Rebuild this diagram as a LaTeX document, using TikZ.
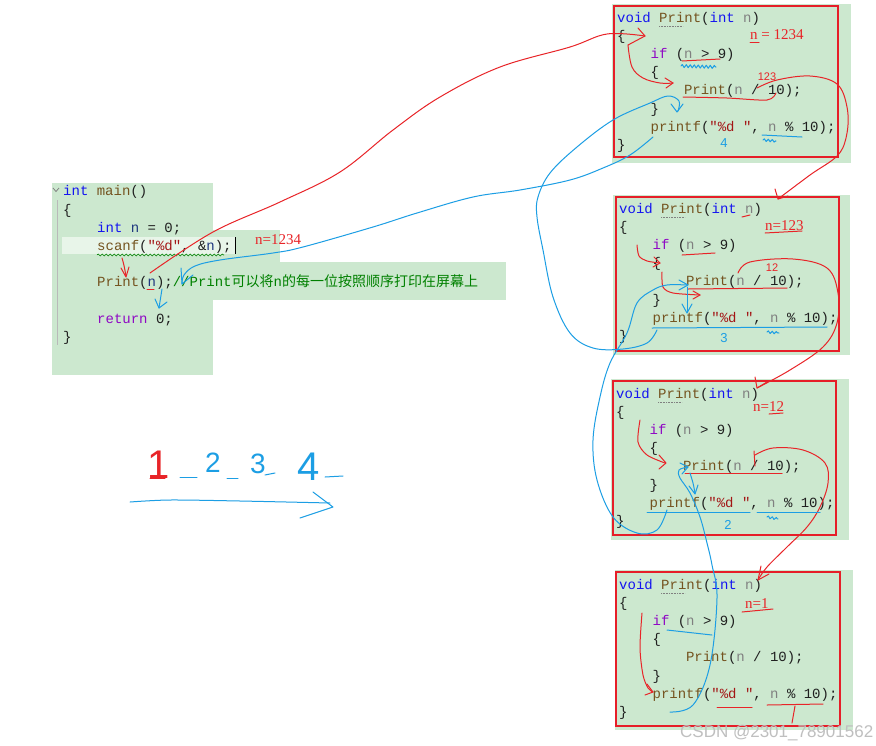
\documentclass[tikz,border=0pt]{standalone}
\usepackage{fontspec}
\setmainfont{Liberation Serif}
\setsansfont{Liberation Sans}
\setmonofont{Liberation Mono}
\newfontfamily\cjk{Noto Sans CJK SC}
\usetikzlibrary{decorations.pathmorphing}
\definecolor{bg}{RGB}{204,232,207}
\definecolor{kw}{RGB}{20,20,240}
\definecolor{ctl}{RGB}{143,8,196}
\definecolor{fn}{RGB}{116,83,31}
\definecolor{strc}{RGB}{163,21,21}
\definecolor{par}{RGB}{128,128,128}
\definecolor{loc}{RGB}{31,55,127}
\definecolor{cmt}{RGB}{0,128,0}
\definecolor{pen}{RGB}{232,36,40}
\definecolor{ink}{RGB}{28,158,228}
\definecolor{boxred}{RGB}{230,30,40}
\newcommand\ckw[1]{\textcolor{kw}{#1}}
\newcommand\cctl[1]{\textcolor{ctl}{#1}}
\newcommand\cfn[1]{\textcolor{fn}{#1}}
\newcommand\cstr[1]{\textcolor{strc}{#1}}
\newcommand\cpar[1]{\textcolor{par}{#1}}
\newcommand\cloc[1]{\textcolor{loc}{#1}}
\newcommand\ccmt[1]{\textcolor{cmt}{#1}}
\tikzset{
  code/.style={anchor=base west, inner sep=0pt, font=\ttfamily\fontsize{14}{14}\selectfont, text=black!88},
  anno/.style={anchor=base west, inner sep=0pt, font=\rmfamily\fontsize{15}{15}\selectfont, text=pen},
  hand/.style={inner sep=0pt, font=\sffamily\fontsize{12}{12}\selectfont},
  rpen/.style={draw=pen, line width=1pt, line cap=round, line join=round},
  bpen/.style={draw=ink, line width=1pt, line cap=round, line join=round},
  redbox/.style={draw=boxred, line width=2pt},
  wave/.style={decorate, decoration={snake, amplitude=1.5pt, segment length=4pt}},
}
\newcommand\printcode[3]{%
  \node[code] (#1l1) at (#2,#3) {\ckw{void} \cfn{Print}(\ckw{int} \cpar{n})};
  \node[code] (#1l2) at (#2,#3+18.2) {\{};
  \node[code] (#1l3) at (#2+33.4,#3+36.4) {\cctl{if} (\cpar{n} > 9)};
  \node[code] (#1l4) at (#2+33.4,#3+54.6) {\{};
  \node[code] (#1l5) at (#2+66.8,#3+72.8) {\cfn{Print}(\cpar{n} / 10);};
  \node[code] (#1l6) at (#2+33.4,#3+91) {\}};
  \node[code] (#1l7) at (#2+33.4,#3+109.2) {\cfn{printf}(\cstr{"\%d "}, \cpar{n} \% 10);};
  \node[code] (#1l8) at (#2,#3+127.4) {\}};
  \draw[densely dotted, gray, line width=0.6pt] (#2+42,#3+4) -- (#2+66,#3+4);
}
\begin{document}
\begin{tikzpicture}[x=1pt,y=-1pt]
\useasboundingbox (0,0) rectangle (876,745);
\fill[white] (0,0) rectangle (876,745);

% ---------------- main() ----------------
\fill[bg] (52,183) rectangle (213,375);
\fill[bg] (213,230) rectangle (280,262);
\fill[bg] (213,262) rectangle (506,300);
\fill[bg!45!white] (62,237) rectangle (235,254);
\draw[gray, line width=0.8pt] (53,188) -- (56,191.5) -- (59,188);
\draw[gray!55, line width=0.8pt] (57,200) -- (57,345);
\node[code] (m1) at (63,195) {\ckw{int} \cfn{main}()};
\node[code] (m2) at (63,214) {\{};
\node[code] (m3) at (97,232) {\ckw{int} \cloc{n} = 0;};
\node[code] (m4) at (97,250) {\cfn{scanf}(\cstr{"\%d"}, \&\cloc{n});};
\node[code] (m5) at (97,286) {\cfn{Print}(\cloc{n});\ccmt{//Print{\cjk 可以将}n{\cjk 的每一位按照顺序打印在屏幕上}}};
\node[code] (m6) at (97,323) {\cctl{return} 0;};
\node[code] (m7) at (63,341) {\}};
\draw[black, line width=0.8pt] (235,237) -- (235,254);
\draw[cmt, line width=0.6pt, decorate, decoration={snake, amplitude=1pt, segment length=4pt}] (97,255) -- (224,255);
\node[anno] (n0) at (255,244) {n=1234};

% red small arrow scanf -> Print, underline of n
\draw[rpen] (122,258) .. controls (124,265) .. (126,276);
\draw[rpen] (121,268) -- (126,277) -- (129,267);
\draw[rpen] (147,289) -- (154,289);
% blue small arrow Print -> return
\draw[bpen] (162,289) .. controls (161,298) .. (159,308);
\draw[bpen] (155,299) -- (159,308) -- (167,302);

% ---------------- boxes ----------------
\fill[bg] (612,4) rectangle (851,163);
\draw[redbox] (614,6) rectangle (838,157);
\printcode{a}{617}{22}

\fill[bg] (613,195) rectangle (850,355);
\draw[redbox] (616,197) rectangle (839,351);
\printcode{b}{619}{213}

\fill[bg] (611,379) rectangle (849,540);
\draw[redbox] (613,381) rectangle (836,535);
\printcode{c}{616}{398}

\fill[bg] (615,570) rectangle (853,730);
\draw[redbox] (616,572) rectangle (840,726);
\printcode{d}{619}{589}

% ---------------- red: calls ----------------
\draw[rpen] plot[smooth, tension=0.6] coordinates {(150,273) (213,232) (280,202) (340,172) (393,130) (440,97) (500,67) (570,47) (607,34) (645,36)};
\draw[rpen] (638,28) -- (645,36) -- (628,45);
\draw[rpen] plot[smooth, tension=0.6] coordinates {(628,45) (632,67) (643,78) (660,83) (673,83)};
\draw[rpen] (665,78) -- (673,83) -- (666,88);

% box 1 annotations
\node[anno] (n1) at (750,39) {n = 1234};
\draw[rpen] (750,42) -- (759,42);
\draw[rpen] (682,61) -- (720,59);
\draw[bpen, wave] (681,66) -- (716,67);
\draw[rpen] plot[smooth] coordinates {(683,97) (727,98) (767,100) (776,93)};
\node[hand, text=pen, font=\sffamily\fontsize{11}{11}\selectfont] (h1) at (767,77) {123};
\draw[rpen] plot[smooth, tension=0.6] coordinates {(757,88) (777,80) (810,76) (837,84) (847,107) (847,133) (838,155) (810,175) (778,199)};
\draw[rpen] (775,189) -- (778,199) -- (788,196);
\draw[bpen] (762,135) -- (802,137);
\draw[bpen, decorate, decoration={snake, amplitude=1.2pt, segment length=4pt}] (763,140) -- (776,141);
\node[hand, text=ink, font=\sffamily\fontsize{13}{13}\selectfont] (h2) at (724,143) {4};

% box 2 annotations
\node[anno] (n2) at (765,230) {n=123};
\draw[rpen] (765,233) -- (802,231);
\draw[rpen] (742,217) -- (750,215);
\draw[rpen] (682,255) -- (715,253);
\draw[rpen] plot[smooth] coordinates {(637,245) (639,256) (647,261) (660,263)};
\draw[rpen] (654,257) -- (660,263) -- (653,267);
\draw[rpen] plot[smooth] coordinates {(662,272) (663,287) (673,293) (700,295)};
\draw[rpen] (693,291) -- (700,295) -- (693,299);
\draw[rpen] (688,289) -- (787,288);
\node[hand, text=pen, font=\sffamily\fontsize{11}{11}\selectfont] (h3) at (772,268) {12};
\draw[rpen] plot[smooth, tension=0.6] coordinates {(738,273) (750,262) (793,259) (827,268) (838,293) (837,323) (823,347) (790,370) (757,388)};
\draw[rpen] (755,377) -- (757,388) -- (767,382);
\draw[bpen] (687,287) -- (687,312);
\draw[bpen] (682,304) -- (687,313) -- (692,304);
\draw[bpen] (652,328) -- (827,327);
\node[hand, text=ink, font=\sffamily\fontsize{13}{13}\selectfont] (h4) at (724,338) {3};
\draw[bpen, decorate, decoration={snake, amplitude=1.2pt, segment length=4pt}] (767,332) -- (779,333);

% box 3 annotations
\node[anno] (n3) at (753,411) {n=12};
\draw[rpen] (769,414) -- (783,413);
\draw[rpen] plot[smooth] coordinates {(640,420) (638,442) (647,455) (665,463)};
\draw[rpen] (659,455) -- (666,463) -- (659,469);
\draw[rpen] (685,473) -- (782,473);
\draw[rpen] (754,451) -- (755,466);
\draw[rpen] plot[smooth, tension=0.6] coordinates {(755,455) (773,448) (803,450) (825,463) (828,483) (820,507) (807,527) (787,547) (767,567) (758,580)};
\draw[rpen] (761,566) -- (758,580) -- (769,574);
\draw[bpen] plot[smooth] coordinates {(690,473) (693,483) (695,493)};
\draw[bpen] (689,486) -- (695,494) -- (698,485);
\draw[bpen] (647,512) -- (750,512);
\draw[bpen] (757,512) -- (820,512);
\node[hand, text=ink, font=\sffamily\fontsize{13}{13}\selectfont] (h5) at (728,525) {2};
\draw[bpen, decorate, decoration={snake, amplitude=1.2pt, segment length=4pt}] (767,517) -- (778,519);

% box 4 annotations
\node[anno] (n4) at (745,608) {n=1};
\draw[rpen] (742,612) -- (773,609);
\draw[rpen] plot[smooth] coordinates {(642,613) (640,648) (643,675) (648,688) (653,692)};
\draw[rpen] (647,684) -- (653,692) -- (645,695);
\draw[rpen] (717,707) -- (752,707);
\draw[rpen] (767,705) -- (823,704);
\draw[rpen] (795,706) -- (792,723);
\draw[bpen] (667,630) -- (712,635);

% ---------------- blue: returns ----------------
\draw[bpen] plot[smooth, tension=0.6] coordinates {(653,137) (630,155) (603,168) (570,180) (520,190) (473,197) (417,213) (373,227) (303,247) (273,253) (220,260) (195,266) (184,275) (182,284)};
\draw[bpen] (181,268) -- (182,284) -- (193,275);
\draw[bpen] plot[smooth, tension=0.6] coordinates {(657,330) (647,343) (623,349) (593,348) (570,333) (553,297) (543,250) (537,217) (538,197) (550,173) (577,147) (613,120) (650,103) (668,96) (679,101) (678,111)};
\draw[bpen] (671,104) -- (677,112) -- (683,104);
\draw[bpen] plot[smooth, tension=0.6] coordinates {(667,510) (657,530) (637,533) (613,517) (597,480) (593,440) (600,397) (610,363) (627,333) (637,303) (653,290) (667,285) (687,285)};
\draw[bpen] (679,280) -- (688,285) -- (679,290);
\draw[bpen] plot[smooth, tension=0.6] coordinates {(670,712) (693,705) (710,665) (717,598) (712,565) (707,543) (700,517) (690,493) (680,478) (679,470) (688,467)};
\draw[bpen] (680,463) -- (688,467) -- (682,474);

% ---------------- output 1 2 3 4 ----------------
\node[anchor=base, inner sep=0pt, text=pen, font=\sffamily\fontsize{40}{40}\selectfont] (d1) at (159,478) {1};
\draw[rpen] (150,478) -- (165,478);
\draw[bpen] (180,477) -- (197,477);
\node[anchor=base, inner sep=0pt, text=ink, font=\sffamily\fontsize{28}{28}\selectfont] (d2) at (213,472) {2};
\draw[bpen] (227,478) -- (238,478);
\node[anchor=base, inner sep=0pt, text=ink, font=\sffamily\fontsize{28}{28}\selectfont] (d3) at (258,473) {3};
\draw[bpen] (265,475) -- (275,473);
\node[anchor=base, inner sep=0pt, text=ink, font=\sffamily\fontsize{40}{40}\selectfont] (d4) at (309,480) {4};
\draw[bpen] (325,477) -- (343,476);
\draw[bpen] plot[smooth] coordinates {(130,502) (170,500) (240,501) (330,503)};
\draw[bpen] (313,492) -- (333,507) -- (300,518);

% watermark
\node[anchor=base west, inner sep=0pt, text=black!25, font=\sffamily\fontsize{17}{17}\selectfont] (wm) at (680,737) {CSDN @2301\_78901562};
\end{tikzpicture}
\end{document}
